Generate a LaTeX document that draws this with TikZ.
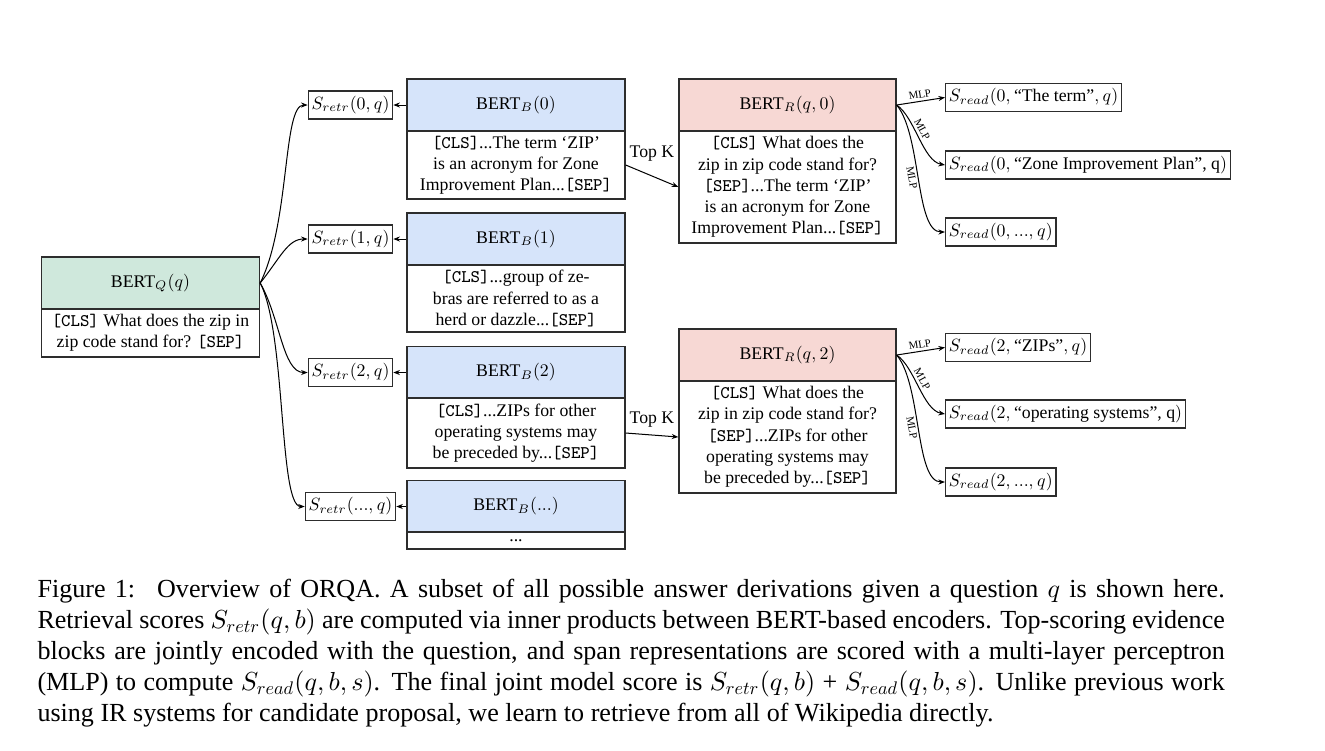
\documentclass[tikz,border=0pt]{standalone}
\usepackage{amsmath}
\usepackage{fontspec}
\setmainfont{Liberation Serif}
\DeclareFontShape{OML}{cmm}{m}{it}{<-6> cmmi7 <6-> cmmi10}{}
\DeclareFontShape{OT1}{cmr}{m}{n}{<-6> cmr7 <6-> cmr10}{}
\usetikzlibrary{arrows.meta}
\definecolor{cgreen}{RGB}{207,232,220}
\definecolor{cblue}{RGB}{214,228,250}
\definecolor{cred}{RGB}{247,216,212}
\definecolor{cline}{RGB}{45,45,45}
\tikzset{
  box/.style={draw=cline, line width=0.55pt, inner sep=0pt, align=center, font=\fontsize{7.01}{8.4}\selectfont},
  hd/.style={box, minimum height=20.54pt},
  bw/.style={minimum width=86.1pt},
  rw/.style={minimum width=85.7pt},
  sbox/.style={draw=cline, line width=0.5pt, inner xsep=1.3pt, inner ysep=2pt, minimum height=11pt, font=\fontsize{7.01}{8.4}\selectfont},
  arr/.style={-{Stealth[length=2.6pt,width=2pt]}, line width=0.4pt},
  mlp/.style={font=\fontsize{4.3}{5}\selectfont, inner sep=1pt},
  topk/.style={font=\fontsize{7.01}{8.4}\selectfont, inner sep=0pt},
  captext/.style={anchor=north west, inner sep=0pt, text width=469pt, align=justify, font=\fontsize{10.3}{12.2}\selectfont}
}
\begin{document}
\begin{tikzpicture}[x=0.395pt,y=-0.395pt]
\useasboundingbox (0,0) rectangle (1325,750);

% question encoder
\node[hd, bw, fill=cgreen] (qh) at (150.5,283) {BERT$_Q(q)$};
\node[box, bw, minimum height=18.96pt] (qb) at (150.5,333) {\texttt{[CLS]} What does the zip in\\zip code stand for? \texttt{[SEP]}};

% block encoders
\node[hd, bw, fill=cblue] (b0h) at (516,105) {BERT$_B(0)$};
\node[box, bw, minimum height=26.86pt] (b0b) at (516,165) {\texttt{[CLS]}...The term `ZIP'\\is an acronym for Zone\\Improvement Plan...\texttt{[SEP]}};
\node[hd, bw, fill=cblue] (b1h) at (516,239) {BERT$_B(1)$};
\node[box, bw, minimum height=26.47pt] (b1b) at (516,298.5) {\texttt{[CLS]}...group of ze-\\bras are referred to as a\\herd or dazzle...\texttt{[SEP]}};
\node[hd, bw, fill=cblue] (b2h) at (516,372.5) {BERT$_B(2)$};
\node[box, bw, minimum height=27.65pt] (b2b) at (516,433) {\texttt{[CLS]}...ZIPs for other\\operating systems may\\be preceded by...\texttt{[SEP]}};
\node[hd, bw, fill=cblue] (b3h) at (516,506.5) {BERT$_B(...)$};
\node[box, bw, minimum height=6.72pt] (b3b) at (516,540.5) {...};

% retrieval scores
\node[sbox] (r0) at (350.5,105) {$S_{retr}(0,q)$};
\node[sbox] (r1) at (350.5,239) {$S_{retr}(1,q)$};
\node[sbox] (r2) at (350.5,372.5) {$S_{retr}(2,q)$};
\node[sbox] (r3) at (350.5,506.5) {$S_{retr}(...,q)$};

% reader encoders
\node[hd, rw, fill=cred] (rh0) at (787.5,105) {BERT$_R(q,0)$};
\node[box, rw, minimum height=44.24pt] (rb0) at (787.5,187) {\texttt{[CLS]} What does the\\zip in zip code stand for?\\\texttt{[SEP]}...The term `ZIP'\\is an acronym for Zone\\Improvement Plan...\texttt{[SEP]}};
\node[hd, rw, fill=cred] (rh2) at (787.5,355) {BERT$_R(q,2)$};
\node[box, rw, minimum height=44.24pt] (rb2) at (787.5,437) {\texttt{[CLS]} What does the\\zip in zip code stand for?\\\texttt{[SEP]}...ZIPs for other\\operating systems may\\be preceded by...\texttt{[SEP]}};

% reader scores
\node[sbox, anchor=west] (s00) at (945,97.5) {$S_{read}(0,\text{``The term''},q)$};
\node[sbox, anchor=west] (s01) at (945,165) {$S_{read}(0,\text{``Zone Improvement Plan'', q})$};
\node[sbox, anchor=west] (s02) at (945,232) {$S_{read}(0,...,q)$};
\node[sbox, anchor=west] (s20) at (945,347.5) {$S_{read}(2,\text{``ZIPs''},q)$};
\node[sbox, anchor=west] (s21) at (945,414) {$S_{read}(2,\text{``operating systems'', q})$};
\node[sbox, anchor=west] (s22) at (945,482) {$S_{read}(2,...,q)$};

% question to retrieval scores
\draw[arr] (qh.east) .. controls +(30,-60) and +(-25,0) .. (r0.west);
\draw[arr] (qh.east) .. controls +(20,-25) and +(-20,0) .. (r1.west);
\draw[arr] (qh.east) .. controls +(20,35) and +(-25,0) .. (r2.west);
\draw[arr] (qh.east) .. controls +(26,50) and +(-26,0) .. (r3.west);

% blocks to retrieval scores
\draw[arr] (b0h.west) -- (r0.east);
\draw[arr] (b1h.west) -- (r1.east);
\draw[arr] (b2h.west) -- (r2.east);
\draw[arr] (b3h.west) -- (r3.east);

% top K
\draw[arr] (b0b.east) -- node[topk, midway, yshift=9pt] {Top K} (rb0.west);
\draw[arr] (b2b.east) -- node[topk, midway, yshift=6pt] {Top K} (rb2.west);

% MLP arrows
\draw[arr] (rh0.east) -- node[mlp, midway, above, sloped] {MLP} (s00.west);
\draw[arr] (rh0.east) .. controls +(18,12) and +(-22,-4) .. node[mlp, pos=0.43, above, sloped] {MLP} (s01.west);
\draw[arr] (rh0.east) .. controls +(25,30) and +(-30,0) .. node[mlp, pos=0.48, below, sloped] {MLP} (s02.west);
\draw[arr] (rh2.east) -- node[mlp, midway, above, sloped] {MLP} (s20.west);
\draw[arr] (rh2.east) .. controls +(18,12) and +(-22,-4) .. node[mlp, pos=0.43, above, sloped] {MLP} (s21.west);
\draw[arr] (rh2.east) .. controls +(25,30) and +(-30,0) .. node[mlp, pos=0.48, below, sloped] {MLP} (s22.west);

% caption
\node[captext] (caption) at (37,579) {Figure 1:\hspace{0.3em} Overview of ORQA. A subset of all possible answer derivations given a question $q$ is shown here.\linebreak Retrieval scores $S_{retr}(q,b)$ are computed via inner products between BERT-based encoders. Top-scoring evidence\linebreak blocks are jointly encoded with the question, and span representations are scored with a multi-layer perceptron\linebreak (MLP) to compute $S_{read}(q,b,s)$. The final joint model score is $S_{retr}(q,b)$ + $S_{read}(q,b,s)$. Unlike previous work\linebreak using IR systems for candidate proposal, we learn to retrieve from all of Wikipedia directly.};
\end{tikzpicture}
\end{document}
